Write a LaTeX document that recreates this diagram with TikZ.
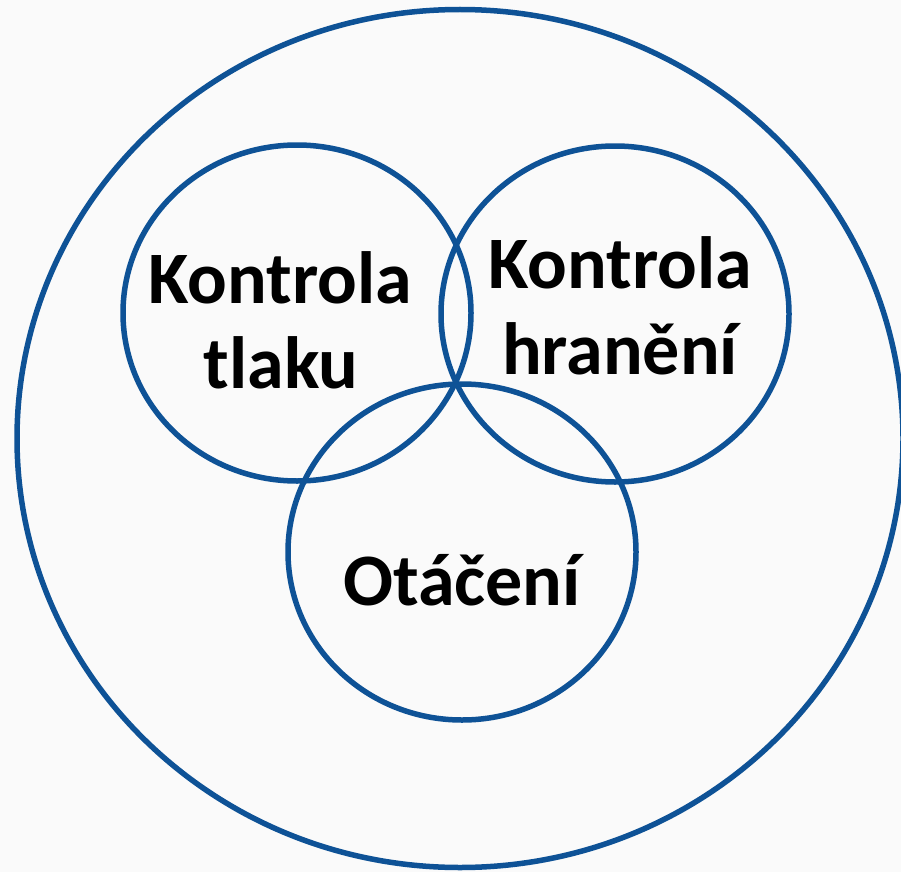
\documentclass[tikz,border=0pt]{standalone}
\usepackage{fontspec}
\setmainfont{Carlito}
\usetikzlibrary{shapes.geometric}
\definecolor{ringblue}{RGB}{14,82,150}
\definecolor{bggray}{RGB}{250,250,250}
\tikzset{
  ring/.style={ellipse, draw=ringblue, line width=5.5pt, inner sep=0pt, minimum width=348pt, minimum height=336pt},
  lbl/.style={anchor=base, inner sep=0pt, font=\fontsize{74}{85}\selectfont\bfseries, text=black}
}
\begin{document}
\begin{tikzpicture}[x=1pt,y=-1pt]
\path[use as bounding box, fill=bggray] (0,0) rectangle (901,872);
\clip (0,0) rectangle (901,872);
\node[ellipse, draw=ringblue, line width=5.5pt, inner sep=0pt, minimum width=886pt, minimum height=858pt] (outer) at (460,438.5) {};
\node[ring] (cA) at (297,313) {};
\node[ring] (cB) at (615,314) {};
\node[ring] (cC) at (462,552) {};
\node[lbl] (tA1) at (280,303) {Kontrola};
\node[lbl] (tA2) at (281,388) {tlaku};
\node[lbl] (tB1) at (620,288) {Kontrola};
\node[lbl] (tB2) at (620,374) {hranění};
\node[lbl] (tC) at (462,605) {Otáčení};
\end{tikzpicture}
\end{document}
